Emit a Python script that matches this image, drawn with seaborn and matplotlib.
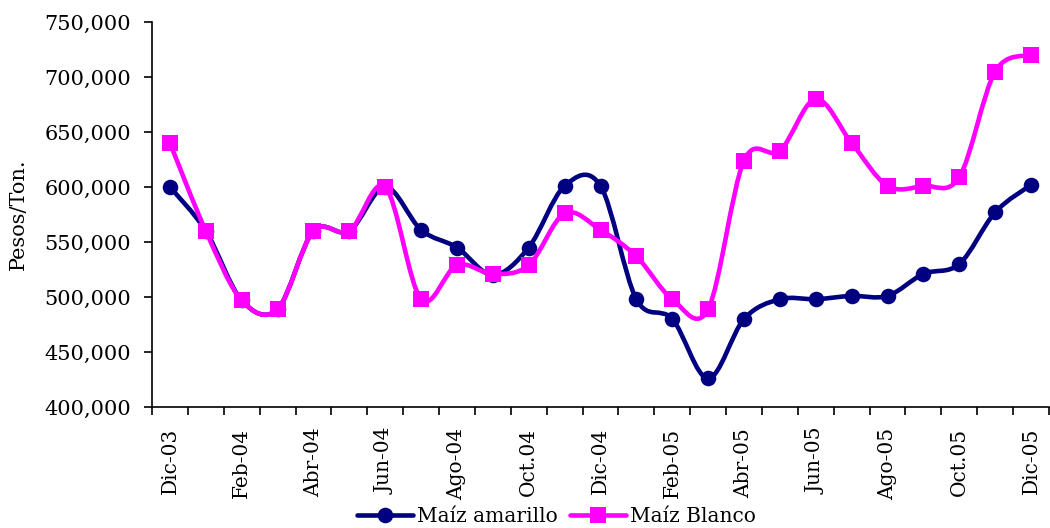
import numpy as np
import pandas as pd
import matplotlib
matplotlib.use("Agg")
import matplotlib.pyplot as plt
import seaborn as sns
from matplotlib.path import Path
from matplotlib.patches import PathPatch
from matplotlib.lines import Line2D
from matplotlib.ticker import FuncFormatter

# ---- data ----
meses = ["Dic-03", "Ene-04", "Feb-04", "Mar-04", "Abr-04", "May-04", "Jun-04",
         "Jul-04", "Ago-04", "Sep-04", "Oct.04", "Nov-04", "Dic-04", "Ene-05",
         "Feb-05", "Mar-05", "Abr-05", "May-05", "Jun-05", "Jul-05", "Ago-05",
         "Sep-05", "Oct.05", "Nov-05", "Dic-05"]
amarillo = [600000, 560000, 497000, 489000, 560000, 560000, 600000, 561000,
            545000, 520000, 545000, 601000, 601000, 498000, 480000, 426000,
            480000, 498000, 498000, 501000, 501000, 521000, 530000, 577000,
            602000]
blanco = [640000, 560000, 497000, 489000, 560000, 560000, 600000, 498000,
          529000, 521000, 529000, 576000, 561000, 537000, 498000, 489000,
          624000, 633000, 680000, 640000, 601000, 601000, 609000, 705000,
          720000]
series_names = ["Maíz amarillo", "Maíz Blanco"]
colores = ["#000080", "#FF00FF"]
marcadores = ["o", "s"]
y_ticks = [400000, 450000, 500000, 550000, 600000, 650000, 700000, 750000]

sns.set_theme(style="white")
plt.rcParams["font.family"] = ["DejaVu Serif"]
plt.rcParams["text.color"] = "black"
plt.rcParams["axes.labelcolor"] = "black"
plt.rcParams["xtick.color"] = "black"
plt.rcParams["ytick.color"] = "black"

df = pd.DataFrame({
    "x": list(range(len(meses))) * 2,
    "mes": meses * 2,
    "valor": amarillo + blanco,
    "serie": [series_names[0]] * len(meses) + [series_names[1]] * len(meses),
})

fig = plt.figure(figsize=(10.5, 5.28), dpi=100)
ax = fig.add_axes([152 / 1050, 121 / 528, 897 / 1050, 385 / 528])


def smooth_path(xs, ys):
    pts = np.column_stack([xs, ys]).astype(float)
    n = len(pts)
    verts = [pts[0]]
    codes = [Path.MOVETO]
    for i in range(n - 1):
        p0 = pts[max(i - 1, 0)]
        p1 = pts[i]
        p2 = pts[i + 1]
        p3 = pts[min(i + 2, n - 1)]
        c1 = p1 + (p2 - p0) / 6.0
        c2 = p2 - (p3 - p1) / 6.0
        verts += [c1, c2, p2]
        codes += [Path.CURVE4] * 3
    return Path(verts, codes)


LW = 3.3
MS = 11.2
for k, (name, col, mk) in enumerate(zip(series_names, colores, marcadores)):
    sub = df[df["serie"] == name]
    patch = PathPatch(smooth_path(sub["x"].values, sub["valor"].values),
                      facecolor="none", edgecolor=col, lw=LW,
                      transform=ax.transData, zorder=2 + 2 * k,
                      capstyle="round", joinstyle="round")
    ax.add_patch(patch)
    sns.scatterplot(data=sub, x="x", y="valor", color=col, marker=mk,
                    s=MS ** 2, linewidth=0, ax=ax, zorder=3 + 2 * k,
                    legend=False)

ax.set_xlim(-0.5, len(meses) - 0.5)
ax.set_ylim(400000, 750000)
ax.set_yticks(y_ticks)
ax.yaxis.set_major_formatter(FuncFormatter(lambda v, p: f"{v:,.0f}"))

ax.set_xticks(np.arange(-0.5, len(meses), 1.0))
ax.set_xticklabels([])
ax.set_xticks(range(0, len(meses), 2), minor=True)
ax.set_xticklabels(meses[::2], minor=True, rotation=90)
ax.tick_params(axis="x", which="major", length=6, width=1.2, direction="out",
               bottom=True)
ax.tick_params(axis="x", which="minor", length=0, pad=15, labelsize=14.5)
ax.tick_params(axis="y", which="major", length=6, width=1.2, direction="out",
               left=True, pad=9, labelsize=15)

ax.set_xlabel("")
ax.set_ylabel("Pesos/Ton.", fontsize=15)
ax.yaxis.set_label_coords(-0.138, 0.5)

for s in ["top", "right"]:
    ax.spines[s].set_visible(False)
for s in ["left", "bottom"]:
    ax.spines[s].set_color("black")
    ax.spines[s].set_linewidth(1.2)

handles = [Line2D([], [], color=c, lw=LW, marker=m, markersize=MS,
                  markeredgewidth=0) for c, m in zip(colores, marcadores)]
fig.legend(handles, series_names, loc="center", bbox_to_anchor=(0.53, 0.022),
           ncol=2, frameon=False, handlelength=2.8, columnspacing=0.6,
           handletextpad=0.2, fontsize=14.5, borderaxespad=0)

fig.savefig("out.png", dpi=100)
